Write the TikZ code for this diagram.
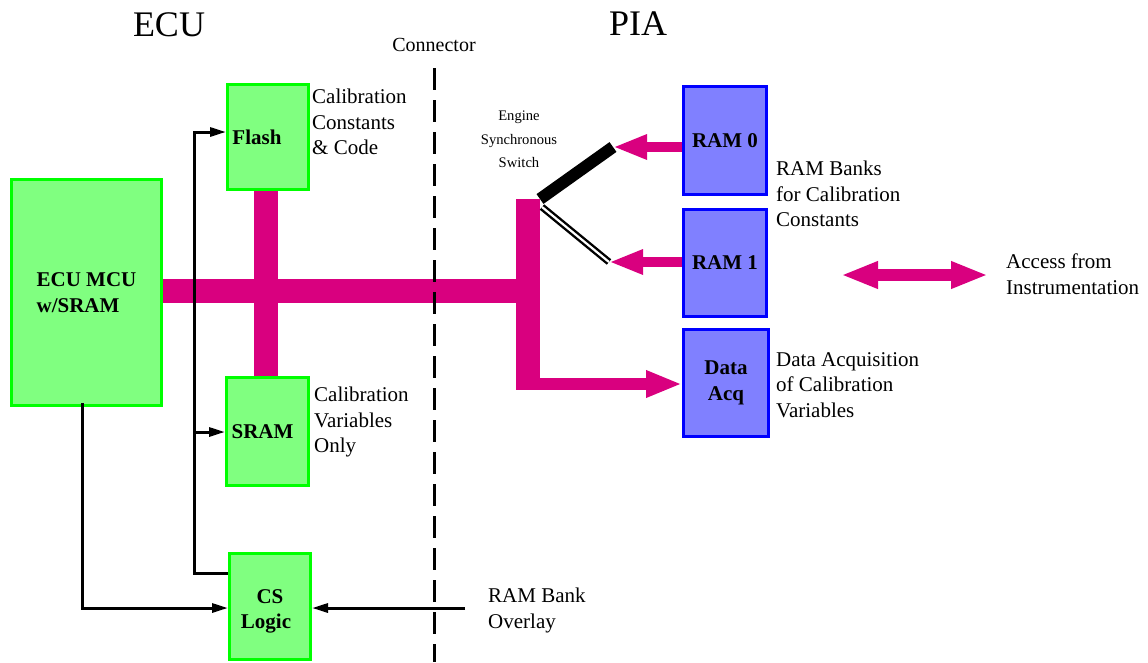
\documentclass[tikz,border=0pt]{standalone}
\usepackage{fontspec}
\setmainfont{Liberation Serif}
\usetikzlibrary{arrows.meta}

\definecolor{busmag}{RGB}{217,0,127}
\definecolor{ecufill}{RGB}{128,255,128}
\definecolor{ecuedge}{RGB}{0,255,0}
\definecolor{piafill}{RGB}{128,128,255}
\definecolor{piaedge}{RGB}{0,0,255}

\newcommand\bodyfont{\fontsize{21}{25.5}\selectfont}
\newcommand\swfont{\fontsize{14.6}{23.5}\selectfont}
\newcommand\connfont{\fontsize{20}{24}\selectfont}
\newcommand\headfont{\fontsize{36}{40}\selectfont}

\begin{document}
\begin{tikzpicture}[x=1pt,y=-1pt,
  box/.style={draw,line width=3pt,inner sep=0pt,align=center,font=\bodyfont\bfseries},
  ecubox/.style={box,draw=ecuedge,fill=ecufill},
  piabox/.style={box,draw=piaedge,fill=piafill},
  note/.style={inner sep=0pt,anchor=north west,align=left,font=\bodyfont},
  head/.style={inner sep=0pt,anchor=north,font=\headfont},
  bus/.style={draw=busmag,line width=24pt},
  busarrow/.style={draw=busmag,line width=12pt,-{Triangle[length=36pt,width=25pt]}},
  feedarrow/.style={draw=busmag,line width=10pt,-{Triangle[length=34pt,width=23pt]}},
  sig/.style={line width=3pt},
  sigarrow/.style={sig,-{Triangle[length=16pt,width=9pt]}},
  boundary/.style={line width=3pt,dash pattern=on 22pt off 10pt}
]
\useasboundingbox (0,0) rectangle (1148,662);

% headings
\node[head] (ecuhead) at (169,12) {ECU};
\node[head] (piahead) at (638,12) {PIA};
\node[inner sep=0pt,anchor=north,font=\connfont] (connlabel) at (434,38) {Connector};

% ECU side blocks
\node[ecubox,align=left,minimum width=150pt,minimum height=226pt] (mcu) at (86.5,292.5) {ECU MCU\\w/SRAM};
\node[ecubox,minimum width=81pt,minimum height=105pt] (flash) at (268,137) {Flash\hspace*{22pt}};
\node[ecubox,minimum width=82pt,minimum height=108pt] (sram) at (267.5,431.5) {SRAM\hspace*{10pt}};
\node[ecubox,minimum width=81pt,minimum height=106pt] (cs) at (270,606.5) {\rule{0pt}{24pt}CS\\Logic\hspace*{8pt}};

% PIA side blocks
\node[piabox,minimum width=83pt,minimum height=108pt] (ram0) at (725,140.5) {RAM 0};
\node[piabox,minimum width=83pt,minimum height=107pt] (ram1) at (725,263) {RAM 1};
\node[piabox,minimum width=85pt,minimum height=107pt] (dacq) at (726,383) {Data\\Acq};

% switch and bus points
\coordinate (pivot) at (540,199);
\coordinate (pivotb) at (542,207);
\coordinate (sw0) at (613,147);
\coordinate (sw1) at (609,262);
\coordinate (busTop) at (528,199);
\coordinate (busBot) at (528,390);
\coordinate (busEnd) at (540,291);
\coordinate (accL) at (841,275);
\coordinate (accR) at (988,275);
\coordinate (ctop) at (434,68);
\coordinate (cbot) at (434,662);
\coordinate (ovl) at (465,608);
\coordinate (ctl) at (194,573);

% pink data buses
\draw[bus] (flash.south -| 266,0) -- (sram.north -| 266,0);
\draw[bus] (mcu.east |- 0,291) -- (busEnd);
\draw[bus] (busTop) -- (busBot);
\draw[busarrow] (516,384) -- (dacq.west |- 0,384);
\draw[feedarrow] (ram0.west |- sw0) -- (sw0);
\draw[feedarrow] (ram1.west |- sw1) -- (sw1);
\draw[draw=busmag,line width=12pt,{Triangle[length=37pt,width=25pt]}-{Triangle[length=37pt,width=25pt]}] (accL) -- (accR);

% engine synchronous switch
\draw[line width=12pt] (pivot) -- (sw0);
\draw[line width=2.4pt,double=white,double distance=2.2pt] (pivotb) -- (sw1);

% control signals
\draw[sigarrow] (cs.west |- ctl) -- (ctl) -- (ctl |- 0,132) -- (flash.west |- 0,132);
\draw[sigarrow] (194,432) -- (sram.west |- 0,432);
\draw[sigarrow] ([xshift=-4.5pt,yshift=4pt]mcu.south) |- (cs.west |- 0,608);
\draw[sigarrow] (ovl) -- (cs.east |- ovl);

% connector boundary
\draw[boundary] (ctop) -- (cbot);

% annotations
\node[note] (flashnote) at (312,89) {Calibration\\Constants\\\& Code};
\node[note] (sramnote) at (314,387) {Calibration\\Variables\\Only};
\node[note] (banknote) at (776,161) {RAM Banks\\for Calibration\\Constants};
\node[note] (accnote) at (1006,254) {Access from\\Instrumentation};
\node[note] (daqnote) at (776,352) {Data Acquisition\\of Calibration\\Variables};
\node[note] (ovlnote) at (488,588) {RAM Bank\\Overlay};
\node[inner sep=0pt,anchor=north,align=center,font=\swfont] (swnote) at (519,111) {Engine\\Synchronous\\Switch};
\end{tikzpicture}
\end{document}
